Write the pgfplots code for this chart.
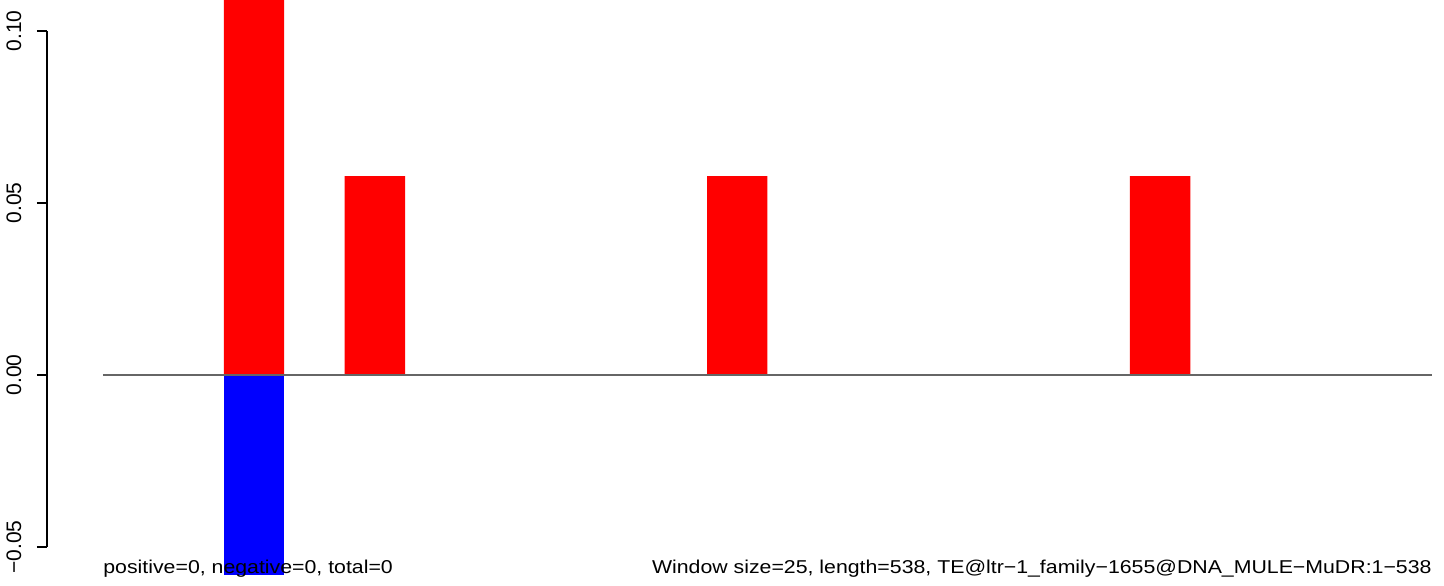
\documentclass[border=0pt]{standalone}
\usepackage{fontspec}
\setmainfont{Liberation Sans}
\newfontfamily\stretchfont[FakeStretch=1.145]{Liberation Sans}
\usepackage{graphicx}
\usepackage{pgfplots}
\pgfplotsset{compat=1.18}
\definecolor{zline}{RGB}{102,102,102}
\begin{document}
\begin{tikzpicture}
\begin{axis}[
  scale only axis, width=698.5bp, height=287.25bp,
  xmin=-23.17, xmax=554.97, ymin=-0.058, ymax=0.109,
  hide x axis,
  axis line style={draw=none},
  ytick pos=left,
  ytick={-0.05,0,0.05,0.10},
  yticklabels={\rotatebox{90}{−0.05},\rotatebox{90}{0.00},\rotatebox{90}{0.05},\rotatebox{90}{0.10}},
  yticklabel style={anchor=east, inner sep=0pt, xshift=-7.65bp,
    font=\fontsize{10.5bp}{12bp}\selectfont},
  tick align=outside, major tick length=5bp,
  tick style={black, line width=0.6bp},
  clip mode=individual,
]
\addplot[ybar, bar width=25, bar shift=0pt, fill=red, draw=none]
  coordinates {(62.5,0.13) (112.5,0.0578) (262.5,0.0578) (437.5,0.0578)};
\addplot[ybar, bar width=25, bar shift=0pt, fill=blue, draw=none]
  coordinates {(62.5,-0.058)};
\addplot[zline, line width=0.6bp] coordinates {(0,0) (550,0)};
\draw[black, line width=0.6bp] (axis cs:-23.17,-0.05) -- (axis cs:-23.17,0.10);
\node[anchor=base west, inner sep=0pt, font=\stretchfont\fontsize{9.3bp}{11bp}\selectfont]
  at (axis cs:0,-0.05785) {positive=0, negative=0, total=0};
\node[anchor=base east, inner sep=0pt, font=\stretchfont\fontsize{9.3bp}{11bp}\selectfont]
  at (axis cs:550,-0.05785) {Window size=25, length=538, TE@ltr−1\_family−1655@DNA\_MULE−MuDR:1−538};
\end{axis}
\pgfresetboundingbox
\path (-23.5bp,-5.75bp) rectangle (698.5bp,287.25bp);
\end{tikzpicture}
\end{document}
